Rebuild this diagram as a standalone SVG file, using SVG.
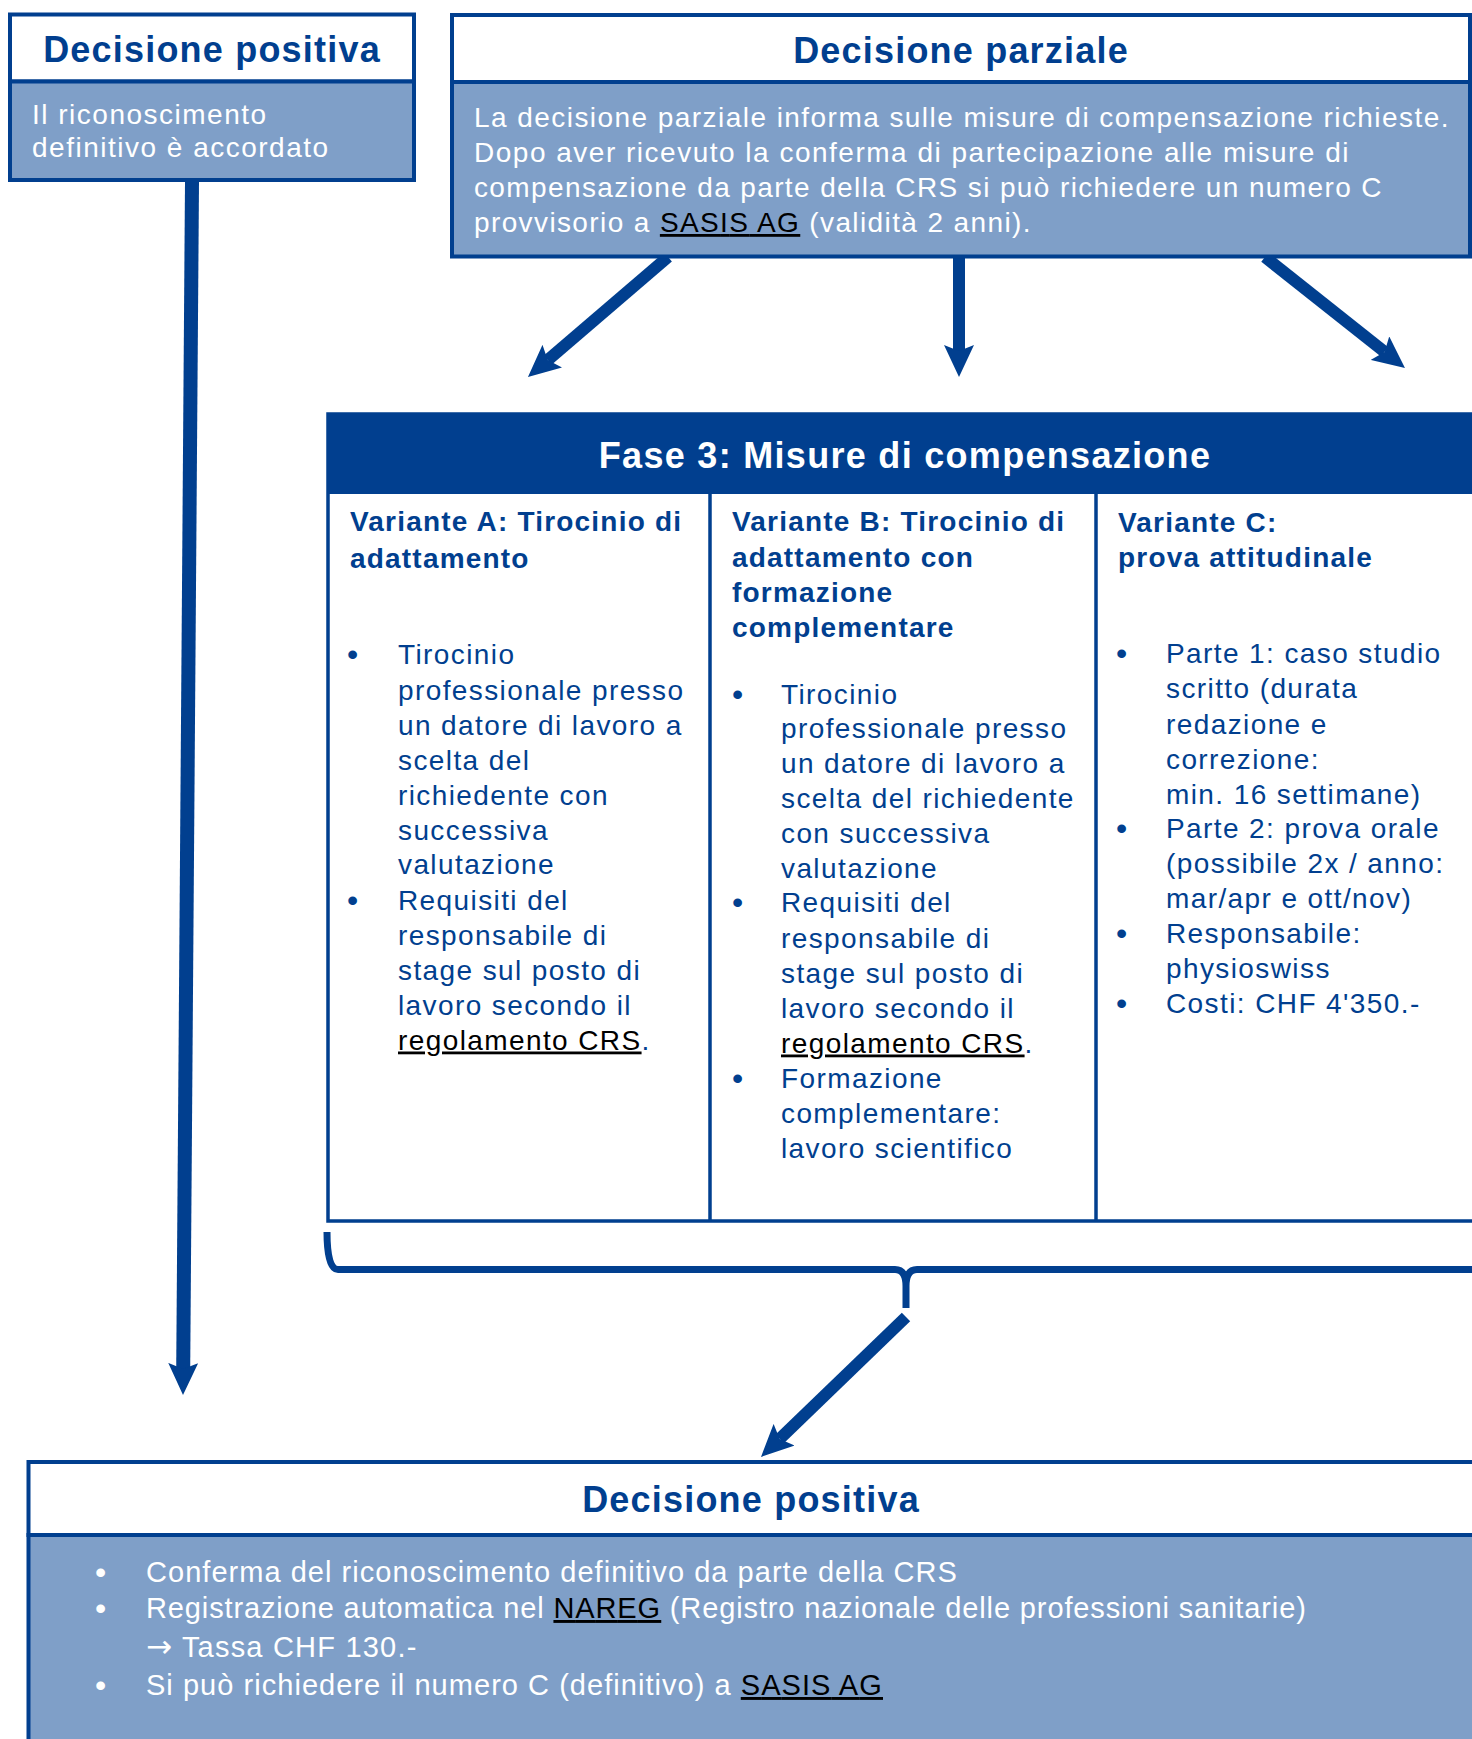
<svg xmlns="http://www.w3.org/2000/svg" width="1472" height="1739" viewBox="0 0 1472 1739">
<style>
  .box-line { stroke:#013F8F; stroke-width:4; }
  .hdr { fill:#FFFFFF; }
  .body { fill:#7F9FC8; }
  .title { font-family:"Liberation Sans", Arial, sans-serif; font-weight:bold; font-size:36px; letter-spacing:1.2px; fill:#013F8F; text-anchor:middle; }
  .title-w { font-family:"Liberation Sans", Arial, sans-serif; font-weight:bold; font-size:36px; letter-spacing:1.3px; fill:#FFFFFF; text-anchor:middle; }
  .light { font-family:"Liberation Sans", Arial, sans-serif; font-size:28px; letter-spacing:1.5px; fill:#FFFFFF; }
  .light-l { font-family:"Liberation Sans", Arial, sans-serif; font-size:29px; letter-spacing:1.2px; fill:#FFFFFF; }
  .vh { font-family:"Liberation Sans", Arial, sans-serif; font-weight:bold; font-size:28px; letter-spacing:1.2px; fill:#013F8F; }
  .vt { font-family:"Liberation Sans", Arial, sans-serif; font-size:28px; letter-spacing:1.4px; fill:#013F8F; }
  .bul { font-family:"Liberation Sans", Arial, sans-serif; font-size:32px; fill:#013F8F; }
  .bul-w { font-family:"Liberation Sans", Arial, sans-serif; font-size:32px; fill:#FFFFFF; }
  .link { fill:#000000; text-decoration:underline; }
  .conn { fill:none; stroke:#013F8F; stroke-linecap:butt; }
</style>
<defs>
  <marker id="ah" markerUnits="userSpaceOnUse" markerWidth="32" markerHeight="30" refX="6" refY="15" orient="auto" viewBox="0 0 32 30">
    <path d="M0,0 L32,15 L0,30 L6,15 Z" fill="#013F8F"/>
  </marker>
</defs>

<!-- Connectors -->
<g id="connectors">
  <path class="conn" stroke-width="14" d="M192,182 L183.2,1369" marker-end="url(#ah)"/>
  <path class="conn" stroke-width="12" d="M668,257 L547.7,360.1" marker-end="url(#ah)"/>
  <path class="conn" stroke-width="12" d="M959,258 L959,351" marker-end="url(#ah)"/>
  <path class="conn" stroke-width="12" d="M1265,257 L1384.6,351.9" marker-end="url(#ah)"/>
  <path class="conn" stroke-width="12" d="M906,1317 L779.7,1438.9" marker-end="url(#ah)"/>
  <path class="conn" stroke-width="7" d="M327,1232 Q327,1269.5 338,1269.5 L895,1269.5 Q906,1269.5 906,1286 L906,1308 M906,1286 Q906,1269.5 917,1269.5 L1480,1269.5"/>
</g>

<!-- Decisione positiva (top-left) -->
<g id="node-decisione-positiva-top">
  <rect class="hdr box-line" x="10" y="14.5" width="404" height="67"/>
  <rect class="body box-line" x="10" y="81.5" width="404" height="98.5"/>
  <text class="title" x="212" y="62">Decisione positiva</text>
  <text class="light" x="32" y="124">Il riconoscimento</text>
  <text class="light" x="32" y="157">definitivo è accordato</text>
</g>

<!-- Decisione parziale -->
<g id="node-decisione-parziale">
  <rect class="hdr box-line" x="452" y="15" width="1018" height="67"/>
  <rect class="body box-line" x="452" y="82" width="1018" height="174.5"/>
  <text class="title" x="961" y="63">Decisione parziale</text>
  <text class="light" x="474" y="127" textLength="976" lengthAdjust="spacing">La decisione parziale informa sulle misure di compensazione richieste.</text>
  <text class="light" x="474" y="162" textLength="876" lengthAdjust="spacing">Dopo aver ricevuto la conferma di partecipazione alle misure di</text>
  <text class="light" x="474" y="197" textLength="909" lengthAdjust="spacing">compensazione da parte della CRS si può richiedere un numero C</text>
  <text class="light" x="474" y="232" textLength="558" lengthAdjust="spacing">provvisorio a <tspan class="link">SASIS AG</tspan> (validità 2 anni).</text>
</g>

<!-- Fase 3 -->
<g id="node-fase3">
  <rect x="328" y="414" width="1160" height="807" fill="#FFFFFF" stroke="#013F8F" stroke-width="3.5"/>
  <rect x="328" y="414" width="1160" height="80" fill="#013F8F"/>
  <line x1="710" y1="494" x2="710" y2="1221" stroke="#013F8F" stroke-width="3.5"/>
  <line x1="1096" y1="494" x2="1096" y2="1221" stroke="#013F8F" stroke-width="3.5"/>
  <text class="title-w" x="905" y="468">Fase 3: Misure di compensazione</text>
</g>

<g id="node-variante-a">
  <text class="vh" x="350" y="531">Variante A: Tirocinio di</text>
  <text class="vh" x="350" y="568">adattamento</text>
  <text class="bul" x="347" y="665">•</text>
  <text class="vt" x="398" y="664">Tirocinio</text>
  <text class="vt" x="398" y="699.5">professionale presso</text>
  <text class="vt" x="398" y="734.5">un datore di lavoro a</text>
  <text class="vt" x="398" y="769.5">scelta del</text>
  <text class="vt" x="398" y="804.5">richiedente con</text>
  <text class="vt" x="398" y="839.5">successiva</text>
  <text class="vt" x="398" y="874">valutazione</text>
  <text class="bul" x="347" y="911">•</text>
  <text class="vt" x="398" y="910">Requisiti del</text>
  <text class="vt" x="398" y="945">responsabile di</text>
  <text class="vt" x="398" y="980">stage sul posto di</text>
  <text class="vt" x="398" y="1014.5">lavoro secondo il</text>
  <text class="vt" x="398" y="1049.5"><tspan class="link">regolamento CRS</tspan>.</text>
</g>

<g id="node-variante-b">
  <text class="vh" x="732" y="531">Variante B: Tirocinio di</text>
  <text class="vh" x="732" y="567">adattamento con</text>
  <text class="vh" x="732" y="602">formazione</text>
  <text class="vh" x="732" y="637">complementare</text>
  <text class="bul" x="732" y="704.5">•</text>
  <text class="vt" x="781" y="703.5">Tirocinio</text>
  <text class="vt" x="781" y="738">professionale presso</text>
  <text class="vt" x="781" y="773">un datore di lavoro a</text>
  <text class="vt" x="781" y="808">scelta del richiedente</text>
  <text class="vt" x="781" y="843">con successiva</text>
  <text class="vt" x="781" y="877.5">valutazione</text>
  <text class="bul" x="732" y="913">•</text>
  <text class="vt" x="781" y="912">Requisiti del</text>
  <text class="vt" x="781" y="947.5">responsabile di</text>
  <text class="vt" x="781" y="982.5">stage sul posto di</text>
  <text class="vt" x="781" y="1018">lavoro secondo il</text>
  <text class="vt" x="781" y="1052.5"><tspan class="link">regolamento CRS</tspan>.</text>
  <text class="bul" x="732" y="1089">•</text>
  <text class="vt" x="781" y="1088">Formazione</text>
  <text class="vt" x="781" y="1123">complementare:</text>
  <text class="vt" x="781" y="1158">lavoro scientifico</text>
</g>

<g id="node-variante-c">
  <text class="vh" x="1118" y="532">Variante C:</text>
  <text class="vh" x="1118" y="567">prova attitudinale</text>
  <text class="bul" x="1116" y="664">•</text>
  <text class="vt" x="1166" y="663">Parte 1: caso studio</text>
  <text class="vt" x="1166" y="698">scritto (durata</text>
  <text class="vt" x="1166" y="734">redazione e</text>
  <text class="vt" x="1166" y="769">correzione:</text>
  <text class="vt" x="1166" y="804">min. 16 settimane)</text>
  <text class="bul" x="1116" y="839">•</text>
  <text class="vt" x="1166" y="838">Parte 2: prova orale</text>
  <text class="vt" x="1166" y="873">(possibile 2x / anno:</text>
  <text class="vt" x="1166" y="908">mar/apr e ott/nov)</text>
  <text class="bul" x="1116" y="944">•</text>
  <text class="vt" x="1166" y="943">Responsabile:</text>
  <text class="vt" x="1166" y="977.5">physioswiss</text>
  <text class="bul" x="1116" y="1014">•</text>
  <text class="vt" x="1166" y="1013">Costi: CHF 4'350.-</text>
</g>

<!-- Decisione positiva (bottom) -->
<g id="node-decisione-positiva-bottom">
  <rect class="hdr box-line" x="28.5" y="1462" width="1460" height="73"/>
  <rect class="body box-line" x="28.5" y="1535" width="1460" height="220"/>
  <text class="title" x="751" y="1512">Decisione positiva</text>
  <text class="bul-w" x="95" y="1583">•</text>
  <text class="light-l" x="146" y="1582" textLength="812" lengthAdjust="spacing">Conferma del riconoscimento definitivo da parte della CRS</text>
  <text class="bul-w" x="95" y="1619">•</text>
  <text class="light-l" x="146" y="1618" textLength="1161" lengthAdjust="spacing">Registrazione automatica nel <tspan class="link">NAREG</tspan> (Registro nazionale delle professioni sanitarie)</text>
  <text class="light-l" x="146" y="1657"><tspan font-family="DejaVu Sans, sans-serif" font-size="31px">→</tspan> Tassa CHF 130.-</text>
  <text class="bul-w" x="95" y="1696">•</text>
  <text class="light-l" x="146" y="1695" textLength="737" lengthAdjust="spacing">Si può richiedere il numero C (definitivo) a <tspan class="link">SASIS AG</tspan></text>
</g>
</svg>
